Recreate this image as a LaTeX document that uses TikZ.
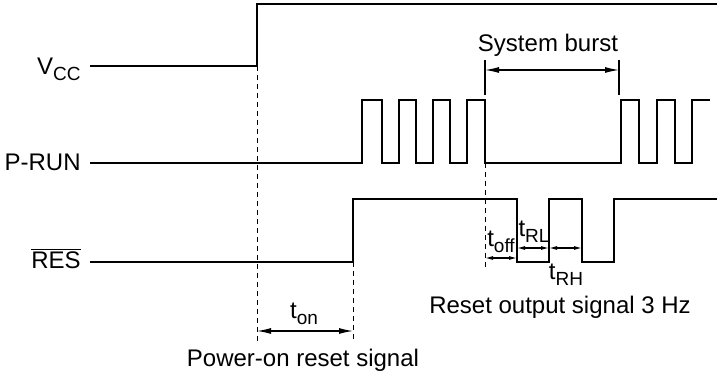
\documentclass[tikz,border=0pt]{standalone}
\usepackage{fontspec}
\setmainfont{Liberation Sans}
\usetikzlibrary{%
  arrows.meta,%
  positioning,% wg. " of "
  calc%
}
\newcommand{\lowsub}[1]{\raisebox{-3pt}{\fontsize{9.5}{10}\selectfont #1}}
\tikzset{
  wave/.style={line width=1pt},
  guide/.style={line width=0.5pt, dash pattern=on 2.5pt off 2pt},
  dim/.style={line width=0.6pt, {Latex[length=7pt,width=3pt]}-{Latex[length=7pt,width=3pt]}},
  smalldim/.style={line width=0.6pt, {Latex[length=4pt,width=2pt]}-{Latex[length=4pt,width=2pt]}},
  lbl/.style={inner sep=0pt, anchor=base}
}

\begin{document}
\begin{tikzpicture}[x=0.5pt, y=-0.5pt, font=\fontsize{12}{14}\selectfont]
\useasboundingbox (0,0) rectangle (717,378);

% -------- signal names
\node[lbl, anchor=base east] (vcc) at (81,75) {V\lowsub{CC}};
\node[lbl, anchor=base east] (prun) at (81,171) {P-RUN};
\node[lbl, anchor=base east] (res) at (81,269) {$\overline{\mbox{RES}}$};

% -------- waveforms
\draw [wave] (90,66) -- (257,66) -- (257,4) -- (717,4);

\draw [wave] (90,163) -- (362,163) -- (362,100) -- (382,100) -- (382,163)
  -- (399,163) -- (399,100) -- (416,100) -- (416,163)
  -- (433,163) -- (433,100) -- (450,100) -- (450,163)
  -- (467,163) -- (467,100) -- (485,100) -- (485,163)
  -- (621,163) -- (621,100) -- (639,100) -- (639,163)
  -- (657,163) -- (657,100) -- (675,100) -- (675,163)
  -- (692,163) -- (692,100) -- (710,100);

\draw [wave] (90,262) -- (353,262) -- (353,199) -- (517,199) -- (517,262)
  -- (549,262) -- (549,199) -- (582,199) -- (582,262)
  -- (614,262) -- (614,199) -- (717,199);

% -------- guide lines
\draw [guide] (257,66) -- (257,343);
\draw [guide] (353,262) -- (353,342);
\draw [guide] (485,163) -- (485,268);

% -------- system burst
\draw [line width=0.6pt] (485,60) -- (485,95);
\draw [line width=0.6pt] (619,60) -- (619,95);
\draw [dim] (485,70) -- (619,70);
\node[lbl] (burst) at (548,52) {System burst};

% -------- power-on reset
\draw [dim] (257,331) -- (353,331);
\node[lbl] (ton) at (304,319) {t\lowsub{on}};
\node[lbl] (poweron) at (303,367) {Power-on reset signal};

% -------- reset output
\draw [smalldim] (485,258) -- (517,258);
\draw [smalldim] (517,248) -- (549,248);
\draw [smalldim] (549,248) -- (582,248);
\node[lbl] (toff) at (501,247) {t\lowsub{off}};
\node[lbl] (trl) at (534,237) {t\lowsub{RL}};
\node[lbl] (trh) at (566,280) {t\lowsub{RH}};
\node[lbl] (resout) at (560,314) {Reset output signal 3 Hz};

\end{tikzpicture}
\end{document}
